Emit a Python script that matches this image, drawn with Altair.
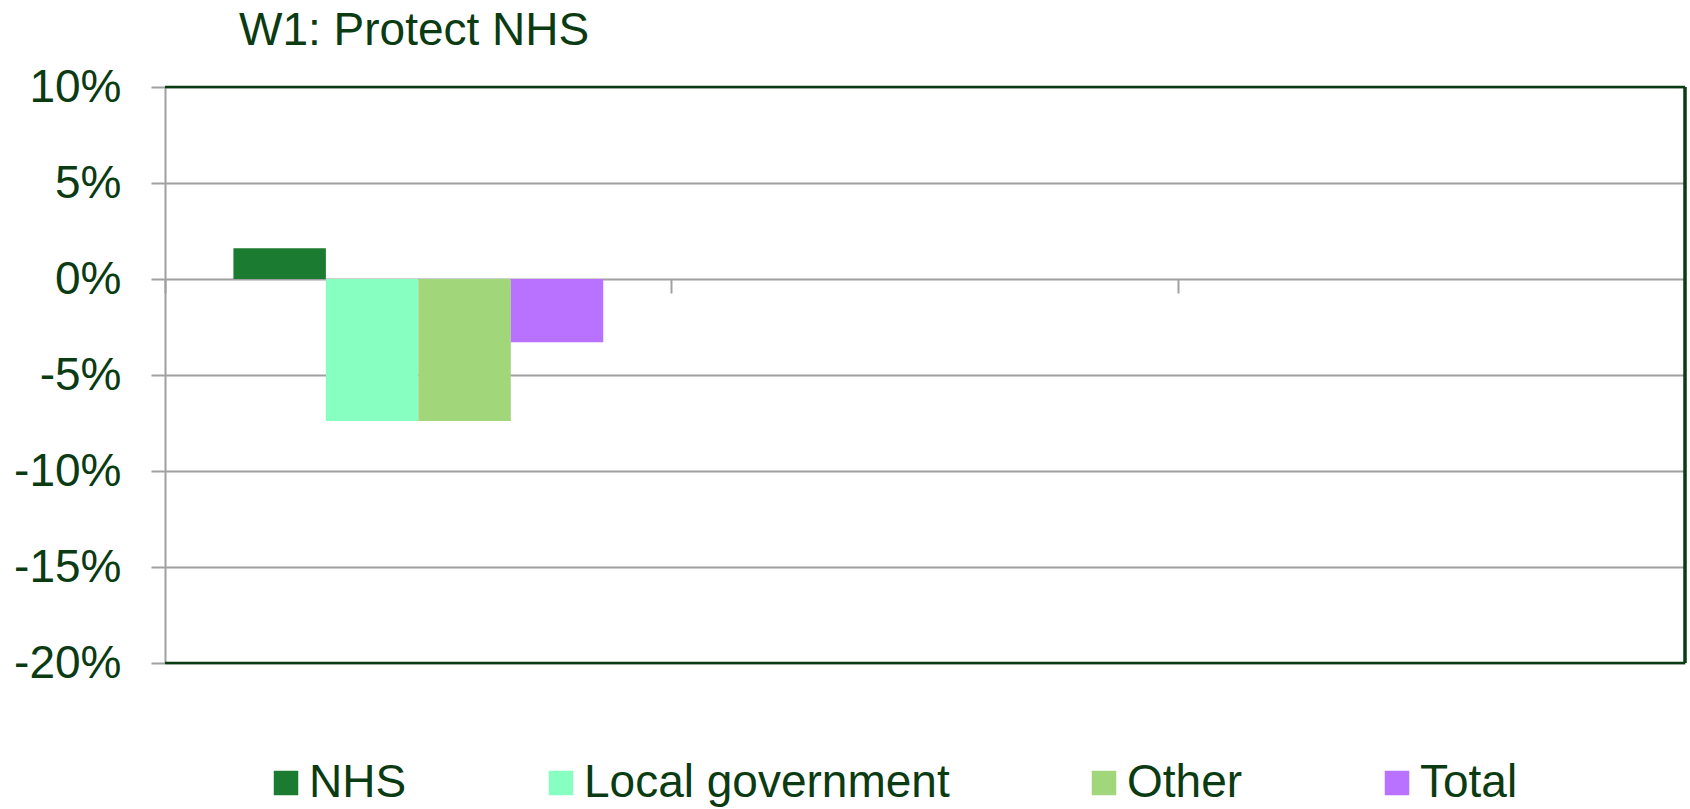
import altair as alt
import pandas as pd

categories = ["Period 1", "Period 2", "Period 3"]
series = ["NHS", "Local government", "Other", "Total"]
values = [1.6, -7.4, -7.4, -3.3]
colors = ["#1B7B31", "#87FFC0", "#A1D67A", "#B872FF"]
y_ticks = [-20, -15, -10, -5, 0, 5, 10]
y_limits = [-20, 10]

TEXT = "#0B3B12"
GRID = "#A0A0A0"
FONT = "Liberation Sans"
W, H = 1520, 576

df = pd.DataFrame({
    "category": [categories[0]] * len(series),
    "series": series,
    "value": values,
})

bars = alt.Chart(df).mark_bar().encode(
    x=alt.X("category:N",
            scale=alt.Scale(domain=categories, paddingInner=0, paddingOuter=0),
            axis=alt.Axis(title=None, labels=False, domain=False,
                          ticks=True, tickSize=14, tickColor=GRID, tickWidth=2,
                          bandPosition=0, offset=-(H * 2 / 3), grid=False)),
    xOffset=alt.XOffset("series:N", sort=series,
                        scale=alt.Scale(paddingInner=0, paddingOuter=0.74)),
    y=alt.Y("value:Q",
            scale=alt.Scale(domain=y_limits, nice=False, zero=False),
            axis=alt.Axis(title=None, values=y_ticks,
                          labelExpr="datum.value + '%'",
                          labelFont=FONT, labelFontSize=46, labelColor=TEXT,
                          labelPadding=30, tickSize=14, tickColor=GRID,
                          tickWidth=2, domainColor=GRID, domainWidth=2,
                          gridColor=GRID, gridWidth=2)),
    color=alt.Color("series:N", sort=series,
                    scale=alt.Scale(domain=series, range=colors),
                    legend=alt.Legend(title=None, orient="none", direction="horizontal",
                                      legendX=98, legendY=673,
                                      symbolType="square", symbolSize=600,
                                      symbolStrokeWidth=0, symbolOpacity=1,
                                      labelFont=FONT, labelFontSize=46,
                                      labelColor=TEXT, labelOffset=0,
                                      columnPadding=131, labelLimit=0)),
)

frame_df = pd.DataFrame({"y": y_limits})
hframe = alt.Chart(frame_df).mark_rule(color=TEXT, strokeWidth=2.5).encode(
    y=alt.Y("y:Q")
)
vframe = alt.Chart(frame_df).mark_rule(color=TEXT, strokeWidth=3).encode(
    x=alt.value(W)
)

chart = alt.layer(bars, hframe, vframe).properties(
    width=W, height=H,
    title=alt.TitleParams("W1: Protect NHS", anchor="start", frame="group",
                          dx=74, offset=9, font=FONT, fontSize=46,
                          fontWeight="normal", color=TEXT),
    autosize=alt.AutoSizeParams(type="none"),
    padding={"left": 165, "top": 87, "right": 5, "bottom": 146},
).configure_view(stroke=None).configure(background="white")

chart.save("out.html", embed_options={"renderer": "svg", "actions": False})
